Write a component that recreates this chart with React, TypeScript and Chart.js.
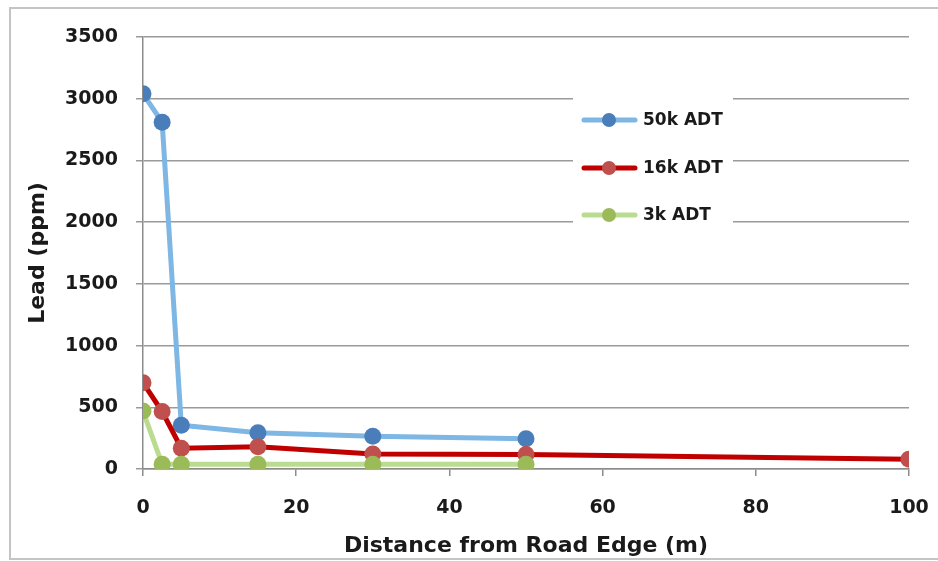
import React, { useEffect, useRef } from "react";
import { Chart, registerables } from "chart.js";

Chart.register(...registerables);

const seriesNames = ["50k ADT", "16k ADT", "3k ADT"];
const distances50k = [0, 2.5, 5, 15, 30, 50];
const lead50k = [3040, 2810, 355, 294, 266, 246];
const distances16k = [0, 2.5, 5, 15, 30, 50, 100];
const lead16k = [699, 465, 168, 180, 122, 118, 80];
const distances3k = [0, 2.5, 5, 15, 30, 50];
const lead3k = [470, 38, 38, 38, 38, 38];
const xTicks = [0, 20, 40, 60, 80, 100];
const yTicks = [0, 500, 1000, 1500, 2000, 2500, 3000, 3500];

const lineColors = ["#7EB6E4", "#C00000", "#B9DC91"];
const markerColors = ["#4A7EBB", "#C0504D", "#9BBB59"];

const FONT = "'DejaVu Sans', sans-serif";

const toPoints = (xs: number[], ys: number[]) => xs.map((x, i) => ({ x, y: ys[i] }));

const frameAndLegend = {
  id: "frameAndLegend",
  beforeDraw(chart: any) {
    const ctx = chart.ctx;
    ctx.save();
    ctx.fillStyle = "#ffffff";
    ctx.fillRect(0, 0, chart.width, chart.height);
    ctx.strokeStyle = "#c4c4c4";
    ctx.lineWidth = 2;
    ctx.strokeRect(10, 8, chart.width + 20, chart.height - 10);
    ctx.restore();
  },
  afterDraw(chart: any) {
    const ctx = chart.ctx;
    ctx.save();
    ctx.fillStyle = "#ffffff";
    ctx.fillRect(573, 90, 160, 148);
    const rows = [120, 168, 215];
    seriesNames.forEach((name, i) => {
      const y = rows[i];
      ctx.strokeStyle = lineColors[i];
      ctx.lineWidth = 5;
      ctx.lineCap = "round";
      ctx.beginPath();
      ctx.moveTo(584, y);
      ctx.lineTo(635, y);
      ctx.stroke();
      ctx.fillStyle = markerColors[i];
      ctx.beginPath();
      ctx.arc(609, y, 7, 0, Math.PI * 2);
      ctx.fill();
      ctx.fillStyle = "#1a1a1a";
      ctx.font = "bold 17px " + FONT;
      ctx.textBaseline = "middle";
      ctx.textAlign = "left";
      ctx.fillText(name, 643, y + 1);
    });
    ctx.restore();
  },
};

export default function App() {
  const ref = useRef<HTMLCanvasElement | null>(null);
  useEffect(() => {
    if (!ref.current) return;
    const datasets = [
      toPoints(distances50k, lead50k),
      toPoints(distances16k, lead16k),
      toPoints(distances3k, lead3k),
    ].map((data, i) => ({
      label: seriesNames[i],
      data,
      borderColor: lineColors[i],
      backgroundColor: markerColors[i],
      pointBackgroundColor: markerColors[i],
      pointBorderColor: markerColors[i],
      pointBorderWidth: 0,
      pointRadius: 8.5,
      borderWidth: 5,
      showLine: true,
      tension: 0,
      order: 3 - i,
    }));
    const chart = new Chart(ref.current, {
      type: "scatter",
      data: { datasets },
      options: {
        animation: false,
        responsive: false,
        maintainAspectRatio: false,
        layout: { padding: { left: 12, right: 29, top: 37, bottom: 0 } },
        plugins: { legend: { display: false }, tooltip: { enabled: false } },
        scales: {
          x: {
            type: "linear",
            min: 0,
            max: 100,
            afterBuildTicks: (s: any) => {
              s.ticks = xTicks.map((v) => ({ value: v }));
            },
            afterFit: (s: any) => {
              s.height = 92;
              s.paddingLeft = 0;
              s.paddingRight = 0;
            },
            grid: { drawOnChartArea: false, tickLength: 7, color: "#8c8c8c", lineWidth: 1.5 },
            border: { display: true, color: "#8c8c8c", width: 1.5 },
            ticks: {
              color: "#1a1a1a",
              font: { family: FONT, size: 19, weight: "bold" },
              padding: 21,
              maxRotation: 0,
              callback: (v: any) => String(v),
            },
            title: {
              display: true,
              text: "Distance from Road Edge (m)",
              color: "#1a1a1a",
              font: { family: FONT, size: 22, weight: "bold" },
              padding: { top: 0, bottom: 2 },
            },
          },
          y: {
            type: "linear",
            min: 0,
            max: 3500,
            afterBuildTicks: (s: any) => {
              s.ticks = yTicks.map((v) => ({ value: v }));
            },
            afterFit: (s: any) => {
              s.width = 131;
              s.paddingTop = 0;
              s.paddingBottom = 0;
            },
            grid: { tickLength: 7, color: "#9a9a9a", lineWidth: 1.5 },
            border: { display: true, color: "#8c8c8c", width: 1.5 },
            ticks: {
              color: "#1a1a1a",
              font: { family: FONT, size: 19, weight: "bold" },
              padding: 18,
              callback: (v: any) => String(v),
            },
            title: {
              display: true,
              text: "Lead (ppm)",
              color: "#1a1a1a",
              font: { family: FONT, size: 22, weight: "bold" },
              padding: { top: 13, bottom: 0 },
            },
          },
        },
      },
      plugins: [frameAndLegend],
    } as any);
    return () => chart.destroy();
  }, []);
  return (
    <div style={{ position: "fixed", left: 0, top: 0, width: 938, height: 561 }}>
      <canvas ref={ref} width={938} height={561} style={{ width: 938, height: 561, display: "block" }} />
    </div>
  );
}
